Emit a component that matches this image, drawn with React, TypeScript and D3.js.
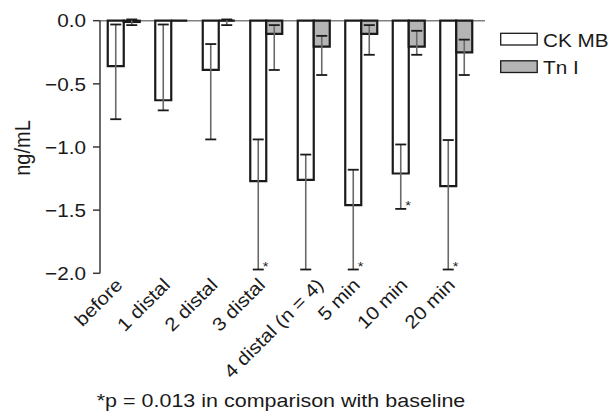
import React from "react";
import * as d3 from "d3";

// Change from baseline of cardiac markers (ng/mL)
const categories = [
  "before",
  "1 distal",
  "2 distal",
  "3 distal",
  "4 distal (n = 4)",
  "5 min",
  "10 min",
  "20 min",
];

const ckMbMean = [-0.36, -0.63, -0.39, -1.27, -1.26, -1.46, -1.21, -1.31];
const ckMbUpper = [-0.03, -0.03, -0.185, -0.94, -1.06, -1.18, -0.98, -0.945];
const ckMbLower = [-0.78, -0.71, -0.94, -1.97, -1.97, -1.97, -1.49, -1.97];
const ckMbSignificant = [false, false, false, true, false, true, true, true];

const tnIMean = [-0.01, 0, 0, -0.105, -0.205, -0.105, -0.205, -0.25];
const tnIUpper: (number | null)[] = [0.01, null, 0.01, -0.035, -0.12, -0.035, -0.08, -0.15];
const tnILower: (number | null)[] = [-0.035, null, -0.035, -0.39, -0.43, -0.27, -0.27, -0.43];

const yTicks = [0, -0.5, -1, -1.5, -2];
const seriesNames = ["CK MB", "Tn I"];
const footnote = "*p = 0.013 in comparison with baseline";

const WIDTH = 612;
const HEIGHT = 412;
const FONT = "'Liberation Sans', Arial, Helvetica, sans-serif";
const STRETCH = 1.12; // type is set slightly wide
const TEXT = "#1a1a1a";
const BAR_STROKE = "#1a1a1a";
const TN_FILL = "#b5b5b5";
const ERR_LINE = "#6a6a6a";

const left = 100;
const right = 480;
const top = 20.7;
const bottom = 273.3;

function WideText(props: {
  x: number;
  y: number;
  size: number;
  anchor?: "start" | "middle" | "end";
  rotate?: number;
  dy?: string;
  children: React.ReactNode;
}) {
  const { x, y, size, anchor = "start", rotate, dy, children } = props;
  // rotate first so the widening runs along the baseline
  const t = `translate(${x},${y})${rotate ? ` rotate(${rotate})` : ""} scale(${STRETCH},1)`;
  return (
    <text
      transform={t}
      fontSize={size}
      fontFamily={FONT}
      fill={TEXT}
      textAnchor={anchor}
      dy={dy}
    >
      {children}
    </text>
  );
}

export default function App() {
  const x = d3.scaleBand<string>().domain(categories).range([left, right]).padding(0);
  const y = d3.scaleLinear().domain([-2, 0]).range([bottom, top]);
  const fmt = d3.format(".1f");

  const barW = 16;
  const capHalf = 5.5;

  const barPath = (x0: number, x1: number, v: number) =>
    `M${x0},${y(0)}H${x1}V${y(v)}H${x0}Z`;

  const labelNudge = (c: string) => (c.includes("(") ? 11 : 0);

  return (
    <svg
      width={WIDTH}
      height={HEIGHT}
      style={{ position: "absolute", left: 0, top: 0, display: "block", background: "#fff" }}
    >
      {/* zero reference line */}
      <line x1={left} x2={485} y1={y(0)} y2={y(0)} stroke="#808080" strokeWidth={1.5} />

      {/* y axis */}
      <line x1={left} x2={left} y1={y(0)} y2={y(-2)} stroke="#3a3a3a" strokeWidth={1.5} />
      {yTicks.map((t) => (
        <g key={t}>
          <line x1={left - 7} x2={left} y1={y(t)} y2={y(t)} stroke="#3a3a3a" strokeWidth={1.5} />
          <WideText x={left - 14} y={y(t)} size={18.5} anchor="end" dy="0.36em">
            {fmt(t)}
          </WideText>
        </g>
      ))}
      <text
        transform={`translate(30,${(y(0) + y(-2)) / 2 + 1}) rotate(-90) scale(1,${STRETCH})`}
        fontSize={20}
        fontFamily={FONT}
        fill={TEXT}
        textAnchor="middle"
      >
        ng/mL
      </text>

      {/* bars */}
      {categories.map((c, i) => {
        const cx = (x(c) as number) + x.bandwidth() / 2;
        return (
          <g key={c}>
            <path
              d={barPath(cx - barW, cx, ckMbMean[i])}
              fill="#fff"
              stroke={BAR_STROKE}
              strokeWidth={2.2}
            />
            <path
              d={barPath(cx, cx + barW, tnIMean[i])}
              fill={TN_FILL}
              stroke={BAR_STROKE}
              strokeWidth={2.2}
            />
          </g>
        );
      })}

      {/* error bars */}
      {categories.map((c, i) => {
        const cx = (x(c) as number) + x.bandwidth() / 2;
        const ckX = cx - barW / 2;
        const tnX = cx + barW / 2;
        const tu = tnIUpper[i];
        const tl = tnILower[i];
        return (
          <g key={c}>
            <line x1={ckX} x2={ckX} y1={y(ckMbUpper[i])} y2={y(ckMbLower[i])} stroke={ERR_LINE} strokeWidth={1.6} />
            <line x1={ckX - capHalf} x2={ckX + capHalf} y1={y(ckMbUpper[i])} y2={y(ckMbUpper[i])} stroke={BAR_STROKE} strokeWidth={1.8} />
            <line x1={ckX - capHalf} x2={ckX + capHalf} y1={y(ckMbLower[i])} y2={y(ckMbLower[i])} stroke={BAR_STROKE} strokeWidth={1.8} />
            {ckMbSignificant[i] && (
              <WideText x={ckX + 4.5} y={y(ckMbLower[i]) + 1} size={13}>
                *
              </WideText>
            )}
            {tu !== null && tl !== null && (
              <g>
                <line x1={tnX} x2={tnX} y1={y(tu)} y2={y(tl)} stroke={ERR_LINE} strokeWidth={1.6} />
                <line x1={tnX - capHalf} x2={tnX + capHalf} y1={y(tu)} y2={y(tu)} stroke={BAR_STROKE} strokeWidth={1.8} />
                <line x1={tnX - capHalf} x2={tnX + capHalf} y1={y(tl)} y2={y(tl)} stroke={BAR_STROKE} strokeWidth={1.8} />
              </g>
            )}
          </g>
        );
      })}

      {/* category labels */}
      {categories.map((c) => {
        const cx = (x(c) as number) + x.bandwidth() / 2;
        return (
          <WideText key={c} x={cx + labelNudge(c)} y={286} size={18.5} anchor="end" rotate={-45}>
            {c}
          </WideText>
        );
      })}

      {/* legend */}
      {seriesNames.map((name, i) => (
        <g key={name}>
          <rect
            x={500.7}
            y={33.3 + i * 27.5}
            width={36.5}
            height={11.7}
            fill={i === 0 ? "#fff" : TN_FILL}
            stroke={BAR_STROKE}
            strokeWidth={1.3}
          />
          <WideText x={543} y={46.7 + i * 27.5} size={18.5}>
            {name}
          </WideText>
        </g>
      ))}

      {/* footnote */}
      <WideText x={281} y={406.5} size={19.2} anchor="middle">
        {footnote}
      </WideText>
    </svg>
  );
}
